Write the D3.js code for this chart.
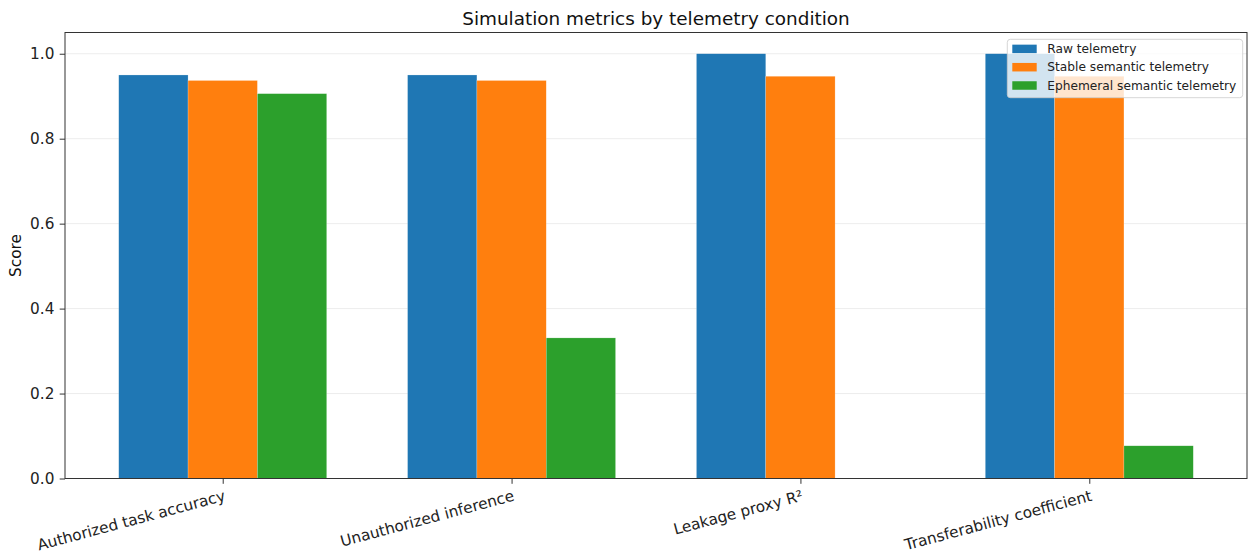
<!DOCTYPE html>
<html>
<head>
<meta charset="utf-8">
<script src="https://cdn.jsdelivr.net/npm/d3@7"></script>
<style>
  body { margin: 0; background: #fff; }
  svg, svg text { font-family: "DejaVu Sans", sans-serif; }
</style>
</head>
<body>
<div id="chart"></div>
<script>
var categories = ["Authorized task accuracy", "Unauthorized inference", "Leakage proxy R²", "Transferability coefficient"];
var seriesNames = ["Raw telemetry", "Stable semantic telemetry", "Ephemeral semantic telemetry"];
var rawValues = [0.950, 0.950, 1.000, 1.000];
var stableValues = [0.937, 0.937, 0.947, 0.947];
var ephemeralValues = [0.906, 0.331, 0.000, 0.077];
var seriesColors = ["#1f77b4", "#ff7f0e", "#2ca02c"];
var yTicks = [0.0, 0.2, 0.4, 0.6, 0.8, 1.0];

var series = [rawValues, stableValues, ephemeralValues];
var W = 1258, H = 559;
var m = { left: 65, right: 11, top: 32.5, bottom: 80.5 };
var barW = 0.24;
var FONT = "DejaVu Sans, sans-serif";
var tickFs = 15.3;

var svg = d3.select("#chart").append("svg")
  .attr("width", W).attr("height", H)
  .attr("font-family", FONT);

var x = d3.scaleLinear()
  .domain([-0.546, categories.length - 1 + 0.546])
  .range([m.left, W - m.right]);
var y = d3.scaleLinear()
  .domain([0, 1.05])
  .range([H - m.bottom, m.top]);

// grid
svg.append("g").selectAll("line")
  .data(yTicks)
  .enter().append("line")
  .attr("x1", m.left).attr("x2", W - m.right)
  .attr("y1", function(d) { return y(d); })
  .attr("y2", function(d) { return y(d); })
  .attr("stroke", "#b0b0b0").attr("stroke-opacity", 0.3).attr("stroke-width", 0.8);

// bars
series.forEach(function(vals, s) {
  svg.append("g").selectAll("rect")
    .data(vals)
    .enter().append("rect")
    .attr("x", function(d, i) { return x(i + (s - 1) * barW - barW / 2); })
    .attr("width", x(barW) - x(0))
    .attr("y", function(d) { return y(d); })
    .attr("height", function(d) { return y(0) - y(d); })
    .attr("fill", seriesColors[s])
    .attr("stroke", "#fff").attr("stroke-opacity", 0.4).attr("stroke-width", 0.5);
});

// axes
var yAxis = d3.axisLeft(y).tickValues(yTicks).tickFormat(d3.format(".1f")).tickSize(5.3).tickPadding(5.3);
var gy = svg.append("g").attr("transform", "translate(" + m.left + ",0)").call(yAxis)
  .attr("font-family", FONT).attr("font-size", tickFs);
gy.select(".domain").remove();
gy.selectAll("text").attr("fill", "#222");
gy.selectAll("line").attr("stroke", "#333");

var xAxis = d3.axisBottom(x).tickValues(d3.range(categories.length)).tickFormat(function(i) { return categories[i]; }).tickSize(5.3);
var gx = svg.append("g").attr("transform", "translate(0," + (H - m.bottom) + ")").call(xAxis)
  .attr("font-family", FONT).attr("font-size", tickFs);
gx.select(".domain").remove();
gx.selectAll("line").attr("stroke", "#333");
gx.selectAll("text")
  .attr("fill", "#222")
  .attr("text-anchor", "end")
  .attr("x", 0).attr("y", 0)
  .attr("dy", "0.76em")
  .attr("transform", "translate(0,10.6) rotate(-15)");

// frame
svg.append("rect")
  .attr("x", m.left).attr("y", m.top)
  .attr("width", W - m.left - m.right).attr("height", H - m.top - m.bottom)
  .attr("fill", "none").attr("stroke", "#333").attr("stroke-width", 1);

// title and label
svg.append("text").attr("x", (m.left + W - m.right) / 2).attr("y", 25)
  .attr("text-anchor", "middle").attr("font-size", 18.4).attr("fill", "#111")
  .text("Simulation metrics by telemetry condition");
svg.append("text").attr("transform", "translate(21.3," + ((m.top + H - m.bottom) / 2) + ") rotate(-90)")
  .attr("text-anchor", "middle").attr("font-size", tickFs).attr("fill", "#111")
  .text("Score");

// legend
var lg = svg.append("g").attr("transform", "translate(1007.3,39.3)");
lg.append("rect").attr("width", 235.4).attr("height", 58.4).attr("rx", 3)
  .attr("fill", "#fff").attr("fill-opacity", 0.8).attr("stroke", "#ccc").attr("stroke-width", 0.8);
seriesNames.forEach(function(name, s) {
  var cy = 9.6 + s * 18.3;
  lg.append("rect").attr("x", 5).attr("y", cy - 4.25).attr("width", 24.4).attr("height", 8.5)
    .attr("fill", seriesColors[s]);
  lg.append("text").attr("x", 40).attr("y", cy + 4.3)
    .attr("font-size", 12.2).attr("fill", "#222").text(name);
});
</script>
</body>
</html>
